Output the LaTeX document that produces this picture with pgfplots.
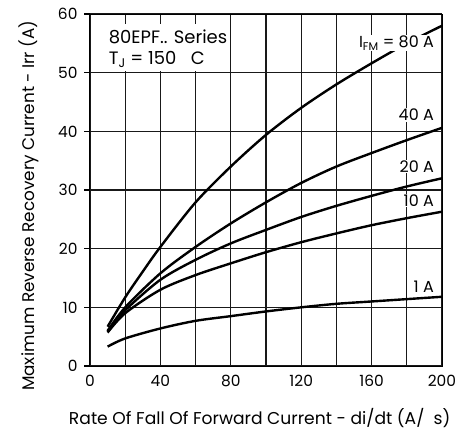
\documentclass[border=0pt]{standalone}
\usepackage{pgfplots}
\pgfplotsset{compat=1.18}
\usepackage{fontspec}
\setmainfont{Poppins}
\begin{document}
\begin{tikzpicture}
\useasboundingbox (-90bp,-66bp) rectangle (375bp,366bp);
\begin{axis}[
  scale only axis, width=352bp, height=352bp,
  xmin=0, xmax=200, ymin=0, ymax=60,
  xtick={0,40,...,200}, ytick={0,10,...,60},
  minor xtick={20,60,...,180},
  xmajorgrids=true, ymajorgrids=true, xminorgrids=true,
  grid style={line width=1.2bp, black!90},
  major grid style={line width=1.2bp, black!90},
  minor grid style={line width=1.2bp, black!90},
  axis line style={line width=1bp, black},
  major tick length=0pt, minor tick length=0pt,
  xticklabel style={font=\fontsize{15.5}{15.5}\selectfont, yshift=-6bp},
  yticklabel style={font=\fontsize{15.5}{15.5}\selectfont, xshift=-9bp},
  /pgf/number format/assume math mode=true,
  xlabel={Rate Of Fall Of Forward Current - di/dt (A/\ \ s)},
  ylabel={Maximum Reverse Recovery Current - Irr (A)},
  xlabel style={font=\fontsize{17.2}{17.2}\selectfont, at={(axis description cs:0.482,0)}, anchor=base, yshift=-58bp},
  ylabel style={font=\fontsize{16.9}{16.9}\selectfont, at={(axis description cs:0,0.455)}, anchor=base, yshift=55bp},
  clip=false,
]
\addplot[black, line width=1.2bp, forget plot] coordinates {(-3.4,0) (0,0)};
\addplot[black, line width=1.2bp, forget plot] coordinates {(-3.4,10) (0,10)};
\addplot[black, line width=1.2bp, forget plot] coordinates {(-3.4,20) (0,20)};
\addplot[black, line width=1.2bp, forget plot] coordinates {(-3.4,30) (0,30)};
\addplot[black, line width=1.2bp, forget plot] coordinates {(-3.4,40) (0,40)};
\addplot[black, line width=1.2bp, forget plot] coordinates {(-3.4,50) (0,50)};
\addplot[black, line width=1.2bp, forget plot] coordinates {(-3.4,60) (0,60)};
\addplot[black, line width=2.4bp, smooth] coordinates {(10,6.7) (20,11.7) (30,16.1) (40,20.3) (60,27.9) (80,34.0) (100,39.4) (120,44.0) (140,48.0) (160,51.6) (180,55.0) (200,58.0)};
\addplot[black, line width=2.4bp, smooth] coordinates {(10,6.0) (20,10.0) (40,15.8) (60,20.3) (80,24.3) (100,27.9) (120,31.2) (140,34.0) (160,36.3) (180,38.5) (200,40.6)};
\addplot[black, line width=2.4bp, smooth] coordinates {(10,5.9) (20,9.5) (40,14.7) (60,18.1) (80,20.9) (100,23.2) (120,25.4) (140,27.3) (160,29.0) (180,30.6) (200,32.0)};
\addplot[black, line width=2.4bp, smooth] coordinates {(10,5.7) (20,9.0) (40,13.0) (60,15.5) (80,17.5) (100,19.4) (120,21.1) (140,22.6) (160,24.0) (180,25.2) (200,26.3)};
\addplot[black, line width=2.4bp, smooth] coordinates {(10,3.3) (20,4.7) (40,6.4) (60,7.7) (80,8.5) (100,9.3) (120,10.0) (140,10.6) (160,11.0) (180,11.4) (200,11.8)};
\fill[white] (axis cs:0.3,50.25) rectangle (axis cs:75,58.3);
\node[anchor=base west, font=\fontsize{18}{18}\selectfont, inner sep=0pt] at (axis cs:10.6,54.9) {80EPF.. Series};
\node[anchor=base west, font=\fontsize{18}{18}\selectfont, inner sep=0pt] at (axis cs:10.6,51.4) {T$_\mathrm{J}$ = 150\ \ \ C};
\node[anchor=base east, fill=white, inner sep=1bp, font=\fontsize{16}{16}\selectfont] at (axis cs:196,54.3) {I$_\mathrm{FM}$ = 80 A};
\node[anchor=base east, fill=white, inner sep=1bp, font=\fontsize{16}{16}\selectfont] at (axis cs:196,41.8) {40 A};
\node[anchor=base east, fill=white, inner sep=1bp, font=\fontsize{16}{16}\selectfont] at (axis cs:196,33.0) {20 A};
\node[anchor=base east, fill=white, inner sep=1bp, font=\fontsize{16}{16}\selectfont] at (axis cs:196,27.2) {10 A};
\node[anchor=base east, inner sep=1bp, font=\fontsize{16}{16}\selectfont] at (axis cs:196,12.6) {1 A};
\end{axis}
\end{tikzpicture}
\end{document}
